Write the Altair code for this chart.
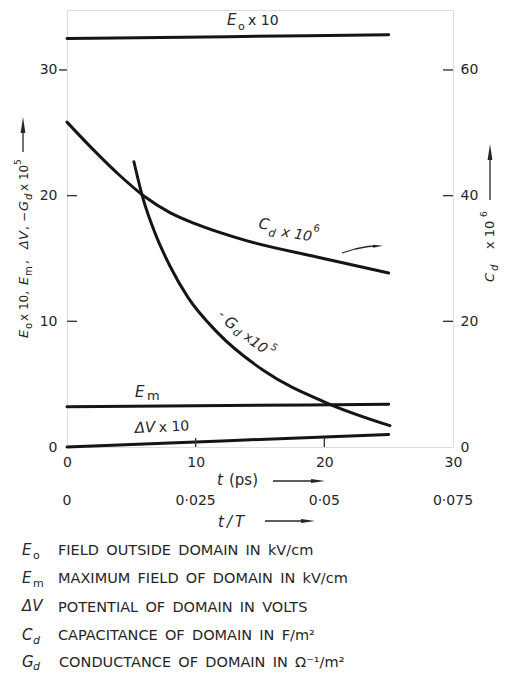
import altair as alt
import pandas as pd

# ---------------- data ----------------
t_E0 = [0, 12.5, 25]
E0x10 = [32.5, 32.65, 32.8]

t_Em = [0, 12.5, 25]
Em = [3.2, 3.3, 3.4]

t_dV = [0, 5, 10, 15, 20, 25]
dVx10 = [0.0, 0.2, 0.4, 0.6, 0.8, 1.0]

t_Gd = [5.2, 5.9, 6.85, 8.0, 9.4, 11.7, 15.25, 20.2, 25.1]
negGdx1e5 = [22.7, 19.8, 17.0, 14.4, 11.9, 9.1, 6.1, 3.5, 1.7]

t_Cd = [0, 2, 4, 6, 8, 10, 14, 19.5, 25.0]
Cdx1e6 = [51.7, 47.4, 43.4, 39.9, 37.3, 35.5, 32.8, 30.2, 27.7]

x_ticks = [0, 10, 20, 30]
tT_labels = ["0", "0\u00b7025", "0\u00b705", "0\u00b7075"]
left_ticks = [0, 10, 20, 30]
right_ticks = [0, 20, 40, 60]

legend_rows = [
    ("FIELD\u2002OUTSIDE\u2002DOMAIN\u2002IN\u2002kV/cm"),
    ("MAXIMUM\u2002FIELD\u2002OF\u2002DOMAIN\u2002IN\u2002kV/cm"),
    ("POTENTIAL\u2002OF\u2002DOMAIN\u2002IN\u2002VOLTS"),
    ("CAPACITANCE\u2002OF\u2002DOMAIN\u2002IN\u2002F/m\u00b2"),
    ("CONDUCTANCE\u2002OF\u2002DOMAIN\u2002IN\u2002\u03a9\u207b\u00b9/m\u00b2"),
]

# ---------------- layout ----------------
W, H = 386, 437
PAD_L, PAD_T = 59, 2
X0, Y0 = 8 + PAD_L, 8 + PAD_T   # page position of plot origin
YMAX = 34.77
FONT = "DejaVu Sans"
INK = "#262626"
CURVE = "#151515"
FRAME = "#3a3a3a"

rows = []
for name, ts, vs in [("E0x10", t_E0, E0x10), ("Em", t_Em, Em),
                     ("dVx10", t_dV, dVx10), ("-Gdx1e5", t_Gd, negGdx1e5)]:
    for t, v in zip(ts, vs):
        rows.append({"series": name, "t": t, "v": v})
left_df = pd.DataFrame(rows)
cd_df = pd.DataFrame({"t": t_Cd, "c": Cdx1e6})

x_scale = alt.Scale(domain=[0, 30], nice=False, zero=False)
x_enc = alt.X("t:Q", scale=x_scale,
              axis=alt.Axis(values=x_ticks, tickSize=0, domain=False, grid=False,
                            labelPadding=8, labelFontSize=14, labelFlush=False,
                            labelFont=FONT, labelColor=INK, title=None))
left_scale = alt.Scale(domain=[0, YMAX], nice=False, zero=False)
right_scale = alt.Scale(domain=[0, 2 * YMAX], nice=False, zero=False)

curves = alt.Chart(left_df).mark_line(
    color=CURVE, strokeWidth=3, interpolate="monotone", strokeCap="round"
).encode(
    x=x_enc,
    y=alt.Y("v:Q", scale=left_scale,
            axis=alt.Axis(orient="left", values=left_ticks, tickSize=0, domain=False,
                          grid=False, labelPadding=10, labelFontSize=14,
                          labelFont=FONT, labelColor=INK, title=None)),
    detail="series:N",
)

cd_line = alt.Chart(cd_df).mark_line(
    color=CURVE, strokeWidth=3, interpolate="monotone", strokeCap="round"
).encode(
    x=x_enc,
    y=alt.Y("c:Q", scale=right_scale,
            axis=alt.Axis(orient="right", values=right_ticks, tickSize=0, domain=False,
                          grid=False, labelPadding=7, labelFontSize=14,
                          labelFont=FONT, labelColor=INK, title=None)),
)

# inner ticks
lt_in = alt.Chart(pd.DataFrame({"v": [10, 20]})).mark_rule(color=FRAME, strokeWidth=1.4).encode(
    x=alt.value(0), x2=alt.value(10), y=alt.Y("v:Q", scale=left_scale, axis=None))
lt_out = alt.Chart(pd.DataFrame({"v": [30]})).mark_rule(color=FRAME, strokeWidth=1.4).encode(
    x=alt.value(-8), x2=alt.value(0), y=alt.Y("v:Q", scale=left_scale, axis=None))
rt_in = alt.Chart(pd.DataFrame({"c": [20, 40, 60]})).mark_rule(color=FRAME, strokeWidth=1.4).encode(
    x=alt.value(W - 10), x2=alt.value(W), y=alt.Y("c:Q", scale=right_scale, axis=None))
bt_in = alt.Chart(pd.DataFrame({"t": [10, 20]})).mark_rule(color=FRAME, strokeWidth=1.4).encode(
    x=x_enc, y=alt.value(H), y2=alt.value(H - 9))

# secondary t/T labels
tT = alt.Chart(pd.DataFrame({"t": x_ticks, "lab": tT_labels})).mark_text(
    fontSize=14, font=FONT, color=INK, baseline="middle", align="center"
).encode(x=x_enc, y=alt.value(501 - Y0), text="lab:N")

ONE = pd.DataFrame({"a": [0]})


def txt(s, px, py, size=14, style="normal", angle=0, align="left", baseline="alphabetic"):
    kw = dict(text=s, fontSize=size, fontStyle=style, align=align, baseline=baseline,
              font=FONT, color=INK)
    if angle:
        kw["angle"] = angle
    return alt.Chart(ONE).mark_text(**kw).encode(x=alt.value(px - X0), y=alt.value(py - Y0))


def seg(xa, ya, xb, yb, w=1.5):
    return alt.Chart(ONE).mark_rule(color=INK, strokeWidth=w).encode(
        x=alt.value(xa - X0), x2=alt.value(xb - X0), y=alt.value(ya - Y0), y2=alt.value(yb - Y0))


HEAD_UP = "M0,-1L0.3,1L-0.3,1Z"
HEAD_RIGHT = "M1,0L-1,-0.3L-1,0.3Z"


def head(shape, px, py, size=200, angle=0):
    kw = dict(shape=shape, filled=True, size=size, color=INK, opacity=1, strokeWidth=0)
    if angle:
        kw["angle"] = angle
    return alt.Chart(ONE).mark_point(**kw).encode(x=alt.value(px - X0), y=alt.value(py - Y0))


ann = [
    # E0 x 10
    txt("E", 227, 25, 15, "italic"), txt("o", 238, 30, 11), txt("x 10", 248, 25, 14),
    # Em
    txt("E", 135, 397, 15, "italic"), txt("m", 147, 400, 13),
    # dV x 10
    txt("\u0394V", 135, 433, 15, "italic", angle=357), txt("x 10", 159, 432, 14, angle=357),
    # Cd x 10^6
    txt("C", 258, 228, 15, "italic", angle=10), txt("d", 268, 236, 11, "italic", angle=10),
    txt("x 10", 281, 236, 14, "italic", angle=10), txt("6", 313, 231, 10, angle=10),
    # -Gd x 10^5 (rotated along curve)
    txt("-", 222, 314, 13, angle=35, align="center", baseline="middle"),
    txt("G", 231, 323, 15, "italic", angle=35, align="center", baseline="middle"),
    txt("d", 236.5, 333, 11, "italic", angle=35, align="center", baseline="middle"),
    txt("x", 248.5, 337.5, 13, angle=35, align="center", baseline="middle"),
    txt("10", 258.5, 345.5, 14, "italic", angle=35, align="center", baseline="middle"),
    txt("5", 274, 347.5, 10, angle=35, align="center", baseline="middle"),
    # curved arrow near Cd
    seg(342, 253, 355, 249, 1.3), seg(355, 249, 368, 246.5, 1.3), seg(368, 246.5, 376, 246, 1.3),
    head(HEAD_RIGHT, 378, 246, 100, angle=357),
    # left axis title (rotated)
    txt("E", 28, 338, 13, "italic", angle=270), txt("o", 32, 329, 10, angle=270),
    txt("x 10,", 28, 321, 12, angle=270),
    txt("E", 28, 285, 13, "italic", angle=270), txt("m", 32, 276, 10, angle=270),
    txt(",", 28, 264, 12, angle=270),
    txt("\u0394V", 28, 249, 13, "italic", angle=270), txt(",", 28, 230, 12, angle=270),
    txt("\u2212", 28, 222, 12, angle=270),
    txt("G", 28, 211, 13, "italic", angle=270), txt("d", 32, 200, 10, "italic", angle=270),
    txt("x 10", 28, 191, 12, angle=270), txt("5", 21, 165, 9, angle=270),
    seg(23, 152, 23, 128, 1.3), head(HEAD_UP, 23, 125, 256),
    # right axis title (rotated)
    txt("C", 494, 282, 13, "italic", angle=270), txt("d", 498, 271, 10, "italic", angle=270),
    txt("x 10", 494, 249, 13, angle=270), txt("6", 487, 217, 9, angle=270),
    seg(490, 200, 490, 160, 1.3), head(HEAD_UP, 490, 152, 256),
    # x axis titles
    txt("t", 217, 485, 15, "italic"), txt("(ps)", 229, 485, 15),
    seg(273, 481, 314, 481, 1.3), head(HEAD_RIGHT, 318, 481, 196),
    txt("t\u2009/\u2009T", 218, 527, 15, "italic"),
    seg(265, 521, 304, 521, 1.3), head(HEAD_RIGHT, 308, 521, 196),
    # legend rows
    txt("E", 22, 555, 15, "italic"), txt("o", 33, 559, 11), txt(legend_rows[0], 58, 555, 14.5),
    txt("E", 22, 583, 15, "italic"), txt("m", 33, 587, 11), txt(legend_rows[1], 58, 583, 14.5),
    txt("\u0394V", 22, 611, 15, "italic"), txt(legend_rows[2], 58, 612, 14.5),
    txt("C", 22, 640, 15, "italic"), txt("d", 33, 644, 11, "italic"), txt(legend_rows[3], 58, 640, 14.5),
    txt("G", 22, 667, 15, "italic"), txt("d", 33, 670, 11, "italic"), txt(legend_rows[4], 59, 667, 14.5),
]

chart = alt.layer(
    curves, cd_line, lt_in, lt_out, rt_in, bt_in, tT, *ann
).resolve_scale(y="independent").properties(
    width=W, height=H,
    autosize=alt.AutoSizeParams(type="none"),
    padding={"left": PAD_L, "top": PAD_T, "right": 492 - PAD_L - W, "bottom": 666 - PAD_T - H},
).configure_view(stroke=FRAME, strokeWidth=1.6).configure(background="white")

chart.save("out.html", embed_options={"renderer": "svg", "actions": False})
